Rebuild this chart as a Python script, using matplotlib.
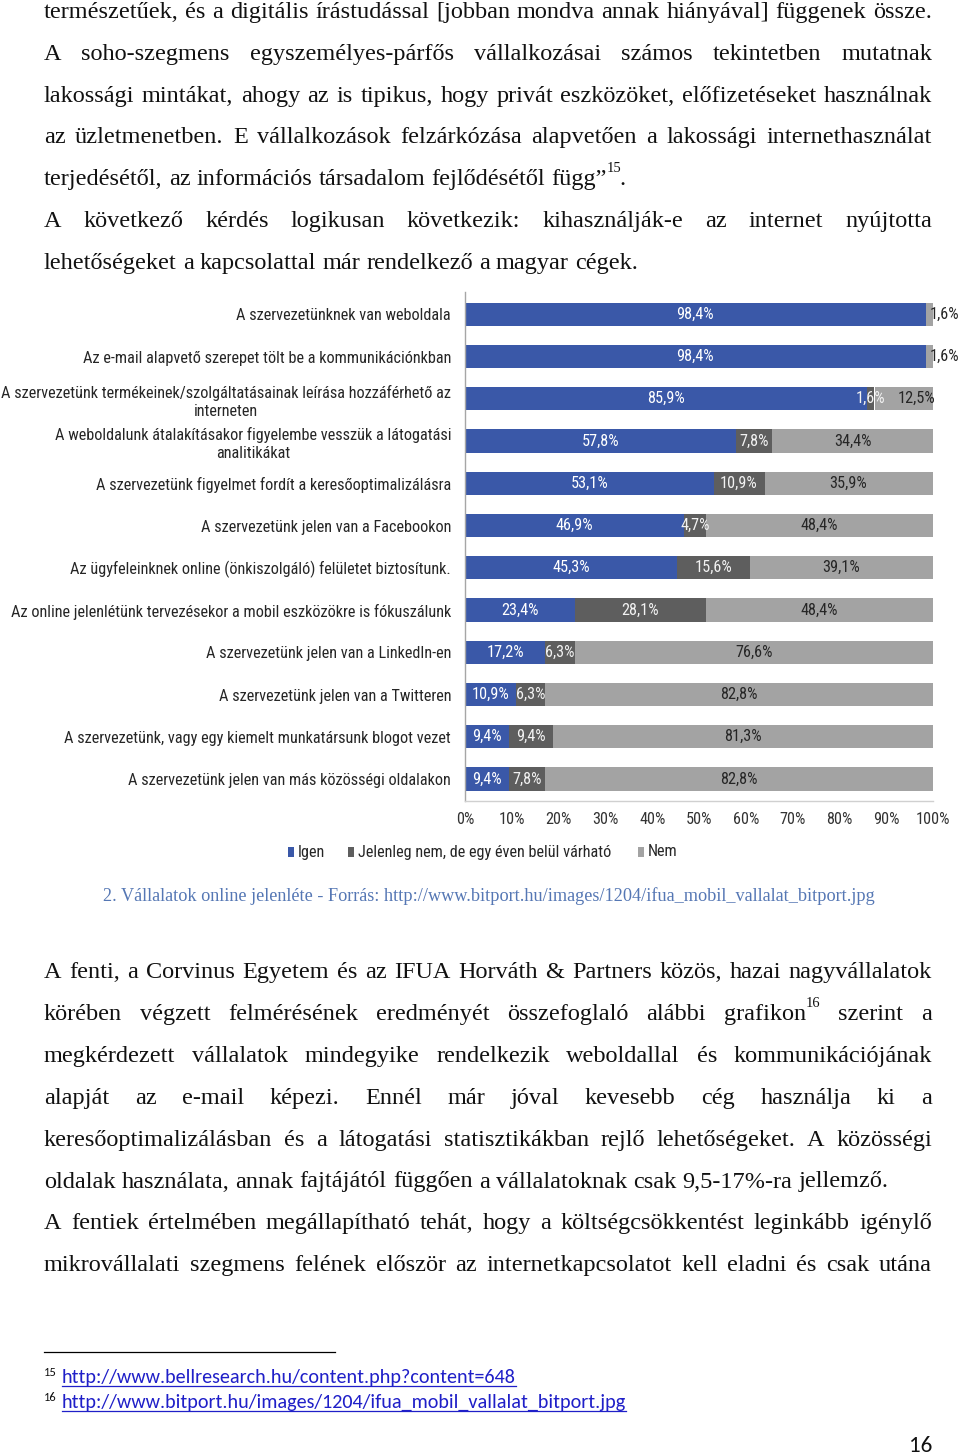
import re
import numpy as np
import matplotlib
matplotlib.use("Agg")
import matplotlib.pyplot as plt
from matplotlib import font_manager
from matplotlib.font_manager import FontProperties
from matplotlib.patches import Rectangle
from matplotlib.lines import Line2D

# ---------------- data ----------------
categories = [
    "A szervezetünknek van weboldala",
    "Az e-mail alapvető szerepet tölt be a kommunikációnkban",
    "A szervezetünk termékeinek/szolgáltatásainak leírása hozzáférhető az\ninterneten",
    "A weboldalunk átalakításakor figyelembe vesszük a látogatási\nanalitikákat",
    "A szervezetünk figyelmet fordít a keresőoptimalizálásra",
    "A szervezetünk jelen van a Facebookon",
    "Az ügyfeleinknek online (önkiszolgáló) felületet biztosítunk.",
    "Az online jelenlétünk tervezésekor a mobil eszközökre is fókuszálunk",
    "A szervezetünk jelen van a LinkedIn-en",
    "A szervezetünk jelen van a Twitteren",
    "A szervezetünk, vagy egy kiemelt munkatársunk blogot vezet",
    "A szervezetünk jelen van más közösségi oldalakon",
]
igen = [98.4, 98.4, 85.9, 57.8, 53.1, 46.9, 45.3, 23.4, 17.2, 10.9, 9.4, 9.4]
jelenleg = [0.0, 0.0, 1.6, 7.8, 10.9, 4.7, 15.6, 28.1, 6.3, 6.3, 9.4, 7.8]
nem = [1.6, 1.6, 12.5, 34.4, 35.9, 48.4, 39.1, 48.4, 76.6, 82.8, 81.3, 82.8]
series_names = ["Igen", "Jelenleg nem, de egy éven belül várható", "Nem"]
xtick_values = [0, 10, 20, 30, 40, 50, 60, 70, 80, 90, 100]
xtick_labels = ["0%", "10%", "20%", "30%", "40%", "50%", "60%", "70%", "80%", "90%", "100%"]

top_lines = [
    ("természetűek, és a digitális írástudással [jobban mondva annak hiányával] függenek össze.", True),
    ("A soho-szegmens egyszemélyes-párfős vállalkozásai számos tekintetben mutatnak", True),
    ("lakossági mintákat, ahogy az is tipikus, hogy privát eszközöket, előfizetéseket használnak", True),
    ("az üzletmenetben. E vállalkozások felzárkózása alapvetően a lakossági internethasználat", True),
    ("terjedésétől, az információs társadalom fejlődésétől függ”^{15}.", False),
    ("A következő kérdés logikusan következik: kihasználják-e az internet nyújtotta", True),
    ("lehetőségeket a kapcsolattal már rendelkező a magyar cégek.", False),
]
bottom_lines = [
    ("A fenti, a Corvinus Egyetem és az IFUA Horváth & Partners közös, hazai nagyvállalatok", True),
    ("körében végzett felmérésének eredményét összefoglaló alábbi grafikon^{16} szerint a", True),
    ("megkérdezett vállalatok mindegyike rendelkezik weboldallal és kommunikációjának", True),
    ("alapját az e-mail képezi. Ennél már jóval kevesebb cég használja ki a", True),
    ("keresőoptimalizálásban és a látogatási statisztikákban rejlő lehetőségeket. A közösségi", True),
    ("oldalak használata, annak fajtájától függően a vállalatoknak csak 9,5-17%-ra jellemző.", False),
    ("A fentiek értelmében megállapítható tehát, hogy a költségcsökkentést leginkább igénylő", True),
    ("mikrovállalati szegmens felének először az internetkapcsolatot kell eladni és csak utána", True),
]
caption = "2. Vállalatok online jelenléte - Forrás: http://www.bitport.hu/images/1204/ifua_mobil_vallalat_bitport.jpg"
footnotes = [
    ("15", "http://www.bellresearch.hu/content.php?content=648"),
    ("16", "http://www.bitport.hu/images/1204/ifua_mobil_vallalat_bitport.jpg"),
]
page_number = "16"

# ---------------- setup ----------------
W, H = 960, 1454
fig = plt.figure(figsize=(W / 100, H / 100), dpi=100)
fig.patch.set_facecolor("white")
renderer = fig.canvas.get_renderer()

avail = {f.name for f in font_manager.fontManager.ttflist}
SERIF = FontProperties(family="Liberation Serif")
LINKF = FontProperties(family="Carlito" if "Carlito" in avail else "Lato")


def find_narrow():
    best, best_rank = None, 99
    for f in font_manager.fontManager.ttflist:
        w = f.weight
        if isinstance(w, str):
            w = font_manager.weight_dict.get(w, 400)
        if f.style != "normal" or w != 400:
            continue
        path = f.fname.lower()
        nm = f.name.lower()
        st = str(f.stretch).lower()
        narrowish = ("narrow" in nm or "narrow" in path or "condensed" in nm
                     or "condensed" in path or "condensed" in st)
        if not narrowish:
            continue
        if "liberation" in nm or "arial" in nm:
            rank = 0
        elif "roboto" in nm:
            rank = 1
        elif "dejavu sans" in nm and "mono" not in nm:
            rank = 2
        elif "mono" in nm or "serif" in nm and "sans" not in nm:
            rank = 8
        else:
            rank = 4
        if rank < best_rank:
            best, best_rank = f.fname, rank
    if best is None:
        return FontProperties(family="Liberation Sans")
    return FontProperties(fname=best)


NARROW = find_narrow()


def fx(x):
    return x / W


def fy(y):
    return 1 - y / H


def tw(s, size, fp):
    p = fp.copy()
    p.set_size(size)
    t = fig.text(0, 0, s, fontproperties=p)
    w = t.get_window_extent(renderer).width
    t.remove()
    return w


def fprop(fp, size):
    p = fp.copy()
    p.set_size(size)
    return p


def parse(line):
    words = []
    for tok in line.split(" "):
        segs = []
        parts = re.split(r"\^\{([^}]*)\}", tok)
        for i, p in enumerate(parts):
            if p:
                segs.append((p, i % 2 == 1))
        words.append(segs)
    return words


SUP = 0.6


def draw_line(line, ybase, size, justify, x0=44, x1=932, fp=SERIF, color="#111111"):
    words = parse(line)
    widths = []
    for w in words:
        widths.append(sum(tw(s, size * (SUP if sup else 1), fp) for s, sup in w))
    if justify and len(words) > 1:
        gap = (x1 - x0 - sum(widths)) / (len(words) - 1)
    else:
        gap = tw("a a", size, fp) - tw("aa", size, fp)
    em = size * 100 / 72
    x = x0
    for w, ww in zip(words, widths):
        xx = x
        for s, sup in w:
            sz = size * (SUP if sup else 1)
            yb = ybase - 0.55 * em if sup else ybase
            fig.text(fx(xx), fy(yb), s, fontproperties=fprop(fp, sz), va="baseline",
                     ha="left", color=color)
            xx += tw(s, sz, fp) - (1.5 if sup else 0)
        x += ww + gap


# body font size fitted to the left-aligned last line width
body_size = 10 * 592 / tw("lehetőségeket a kapcsolattal már rendelkező a magyar cégek.", 10, SERIF)

for i, (ln, just) in enumerate(top_lines):
    draw_line(ln, 18 + 41.8 * i, body_size, just)
for i, (ln, just) in enumerate(bottom_lines):
    draw_line(ln, 978 + 41.9 * i, body_size, just)

# caption
cap_size = 10 * 771 / tw(caption, 10, SERIF)
fig.text(fx(488.5), fy(901), caption, fontproperties=fprop(SERIF, cap_size), color="#5577B4",
         ha="center", va="baseline")

# ---------------- chart ----------------
chart_size = 10 * 447 / tw(categories[2].split("\n")[0], 10, NARROW)
chart_size = min(chart_size, 13.0)
CFP = fprop(NARROW, chart_size)
TXT = "#262626"

ax = fig.add_axes([fx(465), fy(801), (933 - 465) / W, (801 - 292) / H])
n = len(categories)
ypos = np.arange(n)
colors = ["#3A58A8", "#5E5E5E", "#A3A3A3"]
label_colors = ["white", "#F2F2F2", TXT]
# label nudges (in % units) for crowded segments: (row, series) -> dx
nudge = {(2, 2): 2.8}
left = np.zeros(n)
for si, (vals, col, lc, name) in enumerate(zip([igen, jelenleg, nem], colors, label_colors, series_names)):
    vals = np.array(vals)
    ax.barh(ypos, vals, left=left, height=0.55, color=col, label=name, zorder=2)
    for yi, (l, v) in enumerate(zip(left, vals)):
        if v <= 0:
            continue
        txt = f"{v:.1f}%".replace(".", ",")
        cx = l + v / 2 + nudge.get((yi, si), 0)
        if v < 3 and l + v >= 99.9:
            ax.text(cx, yi, txt, ha="left", va="center", color=TXT,
                    fontproperties=CFP, clip_on=False, zorder=3)
        else:
            ax.text(cx, yi, txt, ha="center", va="center", color=lc,
                    fontproperties=CFP, zorder=3)
    left = left + vals

ax.set_xlim(0, 100)
ax.set_ylim(11.52, -0.528)
ax.set_yticks(ypos, labels=categories)
ax.set_xticks(xtick_values, labels=xtick_labels)
ax.tick_params(axis="y", length=0, pad=10, labelcolor=TXT)
ax.tick_params(axis="x", length=0, pad=8, labelcolor="#333333")
for lab in ax.get_yticklabels() + ax.get_xticklabels():
    lab.set_fontproperties(CFP)
for lab in ax.get_yticklabels():
    lab.set_multialignment("center")
    lab.set_linespacing(1.25)
for s in ["top", "right"]:
    ax.spines[s].set_visible(False)
ax.spines["left"].set_color("#A6A6A6")
ax.spines["bottom"].set_color("#D0D0D0")
ax.spines["left"].set_linewidth(1.0)
ax.spines["bottom"].set_linewidth(1.0)
ax.set_facecolor("white")

# legend (manual layout)
leg_x = [288, 348, 638]
for lx, col, name in zip(leg_x, colors, series_names):
    fig.patches.append(Rectangle((fx(lx), fy(857)), 6 / W, 10 / H, transform=fig.transFigure,
                                 facecolor=col, edgecolor="none"))
    fig.text(fx(lx + 10), fy(852), name, fontproperties=CFP, color=TXT,
             ha="left", va="center")

# ---------------- footnotes ----------------
fig.add_artist(Line2D([fx(44), fx(335)], [fy(1352), fy(1352)], color="black", lw=0.9))
link_size = 10 * 454 / tw(footnotes[0][1], 10, LINKF)
for i, (num, url) in enumerate(footnotes):
    yb = 1383 + 25 * i
    fig.text(fx(44), fy(yb - 7), num, fontproperties=fprop(LINKF, link_size * 0.62),
             color="#111111", ha="left", va="baseline")
    fig.text(fx(62), fy(yb), url, fontproperties=fprop(LINKF, link_size), color="#1F1FC8",
             ha="left", va="baseline")
    w = tw(url, link_size, LINKF)
    fig.add_artist(Line2D([fx(62), fx(62 + w)], [fy(yb + 3), fy(yb + 3)], color="#1F1FC8", lw=0.9))

fig.text(fx(932), fy(1452), page_number, fontproperties=fprop(LINKF, link_size * 1.15),
         color="#111111", ha="right", va="baseline")

fig.savefig("out.png", dpi=100, facecolor="white")
